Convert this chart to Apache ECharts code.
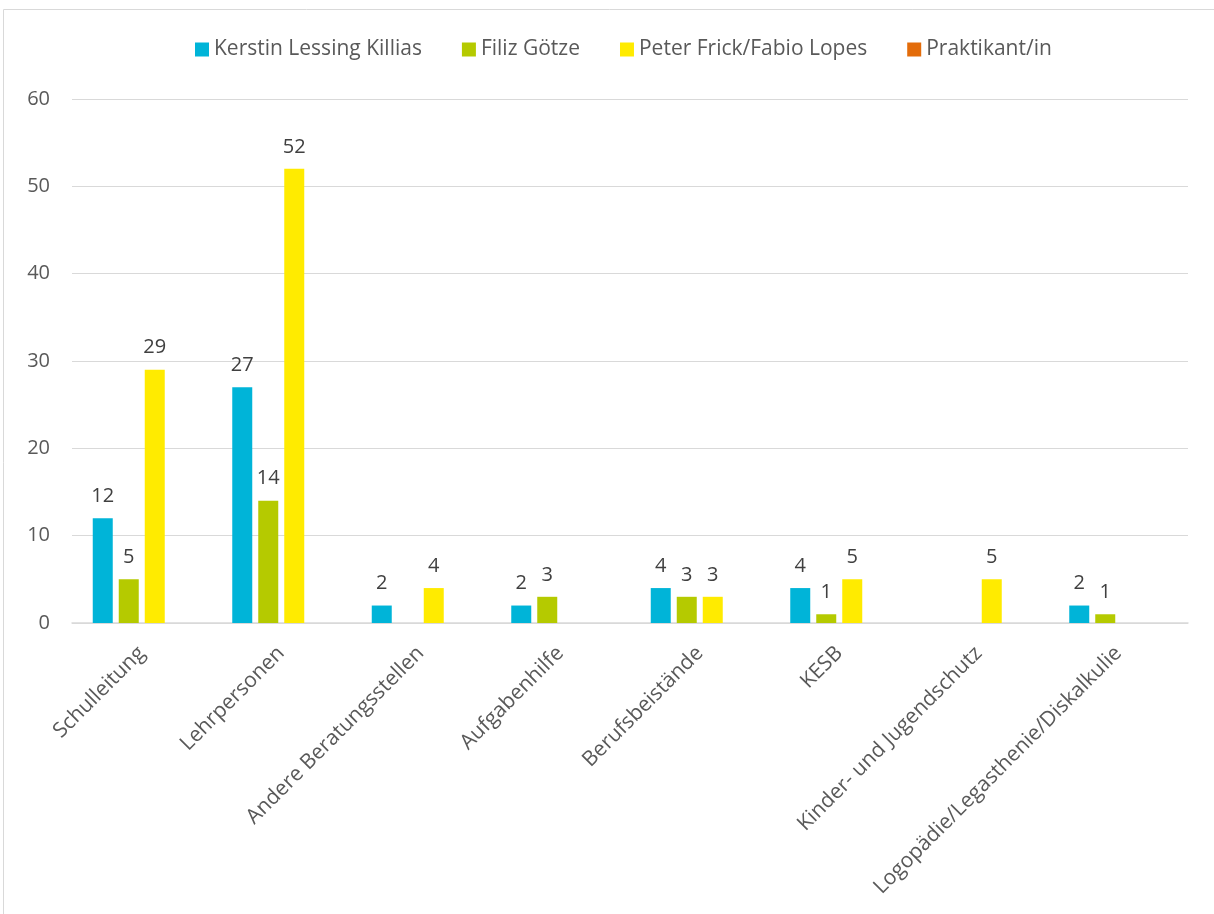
<!DOCTYPE html>
<html>
<head>
<meta charset="utf-8">
<script src="https://cdn.jsdelivr.net/npm/echarts@6/dist/echarts.min.js"></script>
<style>
  html, body { margin: 0; padding: 0; background: #fff; }
  #chart { width: 1214px; height: 914px; }
</style>
</head>
<body>
<div id="chart"></div>
<script>
// Kategorien und Werte
var categories = ['Schulleitung', 'Lehrpersonen', 'Andere Beratungsstellen', 'Aufgabenhilfe',
    'Berufsbeistände', 'KESB', 'Kinder- und Jugendschutz', 'Logopädie/Legasthenie/Diskalkulie'];
var seriesNames = ['Kerstin Lessing Killias', 'Filiz Götze', 'Peter Frick/Fabio Lopes', 'Praktikant/in'];
var kerstin = [12, 27, 2, 2, 4, 4, '-', 2];
var filiz = [5, 14, '-', 3, 3, 1, '-', 1];
var peter = [29, 52, 4, '-', 3, 5, 5, '-'];
var praktikant = ['-', '-', '-', '-', '-', '-', '-', '-'];
var yTicks = [0, 60, 10];

var colors = ['#00B4D8', '#B5CA00', '#FFEB00', '#E36C0A'];
var font = '"Open Sans", sans-serif';

var myChart = echarts.init(document.getElementById('chart'));

function makeSeries(name, data) {
    return {
        name: name,
        type: 'bar',
        data: data,
        barWidth: 20,
        barGap: '30%',
        label: {
            show: true,
            position: 'top',
            distance: 12,
            fontFamily: font,
            fontSize: 20,
            color: '#404040'
        }
    };
}

var option = {
    color: colors,
    animation: false,
    textStyle: { fontFamily: font },
    graphic: [{
        type: 'rect',
        shape: { x: 3.5, y: 9.5, width: 1300, height: 1000 },
        style: { fill: 'none', stroke: '#d9d9d9', lineWidth: 1 },
        silent: true
    }],
    legend: {
        data: seriesNames,
        top: 34,
        left: 190,
        itemWidth: 14,
        itemHeight: 14,
        itemGap: 40,
        icon: 'rect',
        textStyle: { fontFamily: font, fontSize: 21, color: '#595959' }
    },
    grid: {
        left: 72,
        right: 26,
        top: 99,
        bottom: 291,
        containLabel: false
    },
    xAxis: {
        type: 'category',
        data: categories,
        axisLine: { lineStyle: { color: '#d9d9d9', width: 1.5 } },
        axisTick: { show: false },
        axisLabel: {
            rotate: 45,
            interval: 0,
            margin: 27,
            fontFamily: font,
            fontSize: 21,
            color: '#595959'
        }
    },
    yAxis: {
        type: 'value',
        min: yTicks[0],
        max: yTicks[1],
        interval: yTicks[2],
        axisLine: { show: false },
        axisTick: { show: false },
        splitLine: { lineStyle: { color: '#d9d9d9', width: 1 } },
        axisLabel: {
            margin: 22,
            fontFamily: font,
            fontSize: 20,
            color: '#595959'
        }
    },
    series: [
        makeSeries(seriesNames[0], kerstin),
        makeSeries(seriesNames[1], filiz),
        makeSeries(seriesNames[2], peter),
        makeSeries(seriesNames[3], praktikant)
    ]
};

myChart.setOption(option);
</script>
</body>
</html>
